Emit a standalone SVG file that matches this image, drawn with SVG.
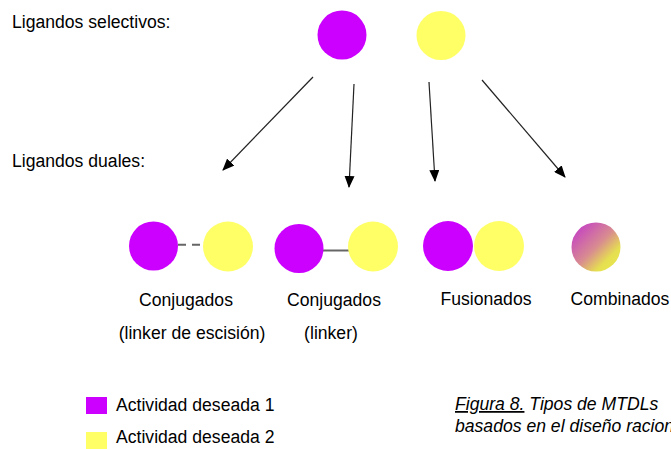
<svg xmlns="http://www.w3.org/2000/svg" width="671" height="449" viewBox="0 0 671 449">
<style>
text{font-family:"Liberation Sans",Arial,sans-serif;font-size:17.6px;fill:#000}
.p{fill:#cc00ff}
.y{fill:#ffff66}
.arr{stroke:#222;stroke-width:1.2;fill:none;marker-end:url(#ah)}
.lk{stroke:#666;stroke-width:2;fill:none}
.c{text-anchor:middle}
.it{font-style:italic}
</style>
<defs>
<marker id="ah" viewBox="0 0 12 10" refX="11" refY="5" markerWidth="12" markerHeight="10" markerUnits="userSpaceOnUse" orient="auto">
<path d="M0,0 L12,5 L0,10 Z" fill="#000"/>
</marker>
<linearGradient id="gr" x1="0" y1="0" x2="1" y2="1">
<stop offset="0" stop-color="#c030d0"/>
<stop offset="0.5" stop-color="#d88c90"/>
<stop offset="0.75" stop-color="#e6e050"/>
<stop offset="1" stop-color="#e8e850"/>
</linearGradient>
</defs>
<text x="12" y="28">Ligandos selectivos:</text>
<text x="12" y="167">Ligandos duales:</text>
<g id="sel1"><circle class="p" cx="342" cy="35" r="24.5"/></g>
<g id="sel2"><circle class="y" cx="441" cy="35.5" r="24.5"/></g>
<g id="connectors">
<line class="arr" x1="313" y1="77" x2="223" y2="170"/>
<line class="arr" x1="354" y1="84" x2="349" y2="187"/>
<line class="arr" x1="429" y1="82" x2="435" y2="181"/>
<line class="arr" x1="482" y1="80" x2="565" y2="177"/>
<line class="lk" x1="178" y1="244.7" x2="204" y2="244.7" stroke-dasharray="8,6"/>
<line class="lk" x1="323" y1="250.5" x2="349" y2="250.5"/>
</g>
<g id="conj1">
<circle class="p" cx="153.5" cy="246" r="24.5"/>
<circle class="y" cx="228" cy="246.5" r="25"/>
<text class="c" x="186" y="306">Conjugados</text>
<text class="c" x="192" y="339">(linker de escisión)</text>
</g>
<g id="conj2">
<circle class="p" cx="299" cy="248.5" r="24.5"/>
<circle class="y" cx="373" cy="246.5" r="25"/>
<text class="c" x="334" y="306">Conjugados</text>
<text class="c" x="331" y="339">(linker)</text>
</g>
<g id="fus">
<circle class="p" cx="448" cy="246" r="25"/>
<circle class="y" cx="499" cy="246" r="25"/>
<text class="c" x="486" y="305">Fusionados</text>
</g>
<g id="comb">
<circle fill="url(#gr)" cx="596" cy="247" r="24.5"/>
<text class="c" x="620" y="305">Combinados</text>
</g>
<g id="legend">
<rect class="p" x="86" y="397" width="21" height="17"/>
<text x="116" y="411">Actividad deseada 1</text>
<rect class="y" x="86" y="432" width="21" height="17"/>
<text x="116" y="443">Actividad deseada 2</text>
</g>
<g id="caption">
<text class="it" x="455" y="410"><tspan text-decoration="underline">Figura 8.</tspan> Tipos de MTDLs</text>
<text class="it" x="455" y="432">basados en el diseño racional</text>
</g>
</svg>
